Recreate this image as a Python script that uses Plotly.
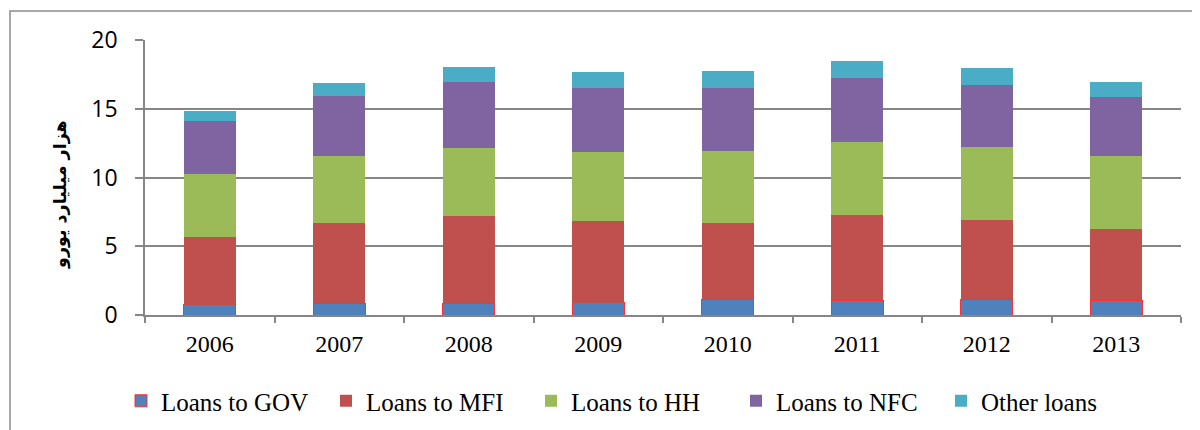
import plotly.graph_objects as go

years = ["2006", "2007", "2008", "2009", "2010", "2011", "2012", "2013"]
loans_gov = [0.73, 0.85, 0.85, 0.90, 1.14, 1.09, 1.14, 1.09]
loans_mfi = [4.96, 5.86, 6.37, 5.96, 5.57, 6.20, 5.79, 5.19]
loans_hh = [4.56, 4.85, 4.93, 5.02, 5.22, 5.27, 5.27, 5.28]
loans_nfc = [3.86, 4.34, 4.82, 4.65, 4.60, 4.68, 4.50, 4.32]
other_loans = [0.75, 0.97, 1.07, 1.14, 1.19, 1.21, 1.26, 1.09]
series_names = ["Loans to GOV", "Loans to MFI", "Loans to HH", "Loans to NFC", "Other loans"]
y_title = "هزار میلیارد یورو"

colors = ["#4F81BD", "#C0504D", "#9BBB59", "#8064A2", "#4BACC6"]
series = [loans_gov, loans_mfi, loans_hh, loans_nfc, other_loans]

fig = go.Figure()
for i, (name, vals) in enumerate(zip(series_names, series)):
    line = dict(color="#FF3030", width=1) if i == 0 else dict(width=0)
    fig.add_trace(go.Bar(x=years, y=vals, name=name,
                         marker=dict(color=colors[i], line=line)))

# page body adds an 8px offset; work in screen coordinates
OFF = 8
W, H = 1200, 430
L, T = 145 - OFF, 40 - OFF
R = W - (1181 - OFF)
B = H - (315 - OFF)
pw, ph = W - L - R, H - T - B

def px(x):
    return (x - OFF - L) / pw

def py(y):
    return (H - B - (y - OFF)) / ph

fig.update_layout(
    width=W, height=H,
    margin=dict(l=L, r=R, t=T, b=B, autoexpand=False),
    barmode="stack", bargap=0.6,
    plot_bgcolor="white", paper_bgcolor="white",
    showlegend=True,
    legend=dict(orientation="h", x=px(121), xanchor="left", y=py(401), yanchor="middle",
                font=dict(family="Liberation Serif", size=25, color="black"),
                entrywidth=160, entrywidthmode="pixels", traceorder="normal",
                bgcolor="rgba(0,0,0,0)"),
    xaxis=dict(showline=True, linecolor="#868686", linewidth=1.5,
               ticks="outside", tickson="boundaries", ticklen=6, tickcolor="#868686", tickwidth=1.5,
               tickfont=dict(family="Liberation Serif", size=24, color="black"),
               ticklabelstandoff=6, showgrid=False),
    yaxis=dict(range=[0, 20], dtick=5, showline=True, linecolor="#868686", linewidth=1.5,
               ticks="outside", ticklen=8, tickcolor="#868686", tickwidth=1.5,
               gridcolor="#868686", gridwidth=1.5,
               tickfont=dict(family="Open Sans", size=23, color="black"),
               ticklabelstandoff=13, zeroline=False),
    shapes=[dict(type="rect", xref="paper", yref="paper",
                 x0=px(10), x1=px(1230), y0=py(460), y1=py(11),
                 line=dict(color="#8C8C8C", width=1.5), layer="below")],
    annotations=[dict(text="<b>" + y_title + "</b>", xref="paper", yref="paper", x=px(60), y=py(195),
                      textangle=-90, showarrow=False,
                      font=dict(family="DejaVu Sans", size=17.5, color="black"),
                      xanchor="center", yanchor="middle")],
)

fig.write_html("out.html")
